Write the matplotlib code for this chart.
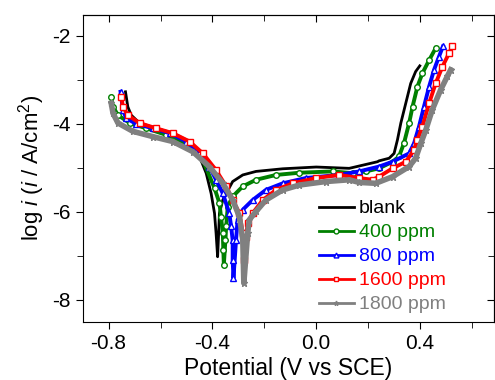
import matplotlib
matplotlib.use('Agg')
import matplotlib.pyplot as plt
import numpy as np

plt.rcParams['font.family'] = ['Liberation Sans', 'DejaVu Sans']
plt.rcParams['mathtext.fontset'] = 'custom'
plt.rcParams['mathtext.rm'] = 'Liberation Sans'
plt.rcParams['mathtext.it'] = 'Liberation Sans:italic'
plt.rcParams['axes.unicode_minus'] = False

# potential (V vs SCE) and log i
blank_E = [-0.735, -0.726, -0.713, -0.681, -0.617, -0.553, -0.488, -0.450, -0.424, -0.405,
           -0.392, -0.386, -0.380, -0.376, -0.373, -0.360, -0.347, -0.322, -0.283, -0.232,
           -0.129, 0.0, 0.127, 0.236, 0.242, 0.281, 0.300, 0.313, 0.326, 0.345, 0.364, 0.383, 0.399]
blank_L = [-3.27, -3.61, -3.80, -3.98, -4.10, -4.21, -4.40, -4.74, -5.12, -5.58,
           -6.03, -6.48, -7.02, -6.48, -6.03, -5.73, -5.58, -5.31, -5.16, -5.08,
           -5.02, -4.98, -5.01, -4.86, -4.84, -4.78, -4.67, -4.36, -3.98, -3.53, -3.08, -2.81, -2.68]

p400_E = [-0.790, -0.783, -0.764, -0.719, -0.655, -0.578, -0.501, -0.437, -0.392, -0.373,
          -0.367, -0.360, -0.358, -0.356, -0.350, -0.347, -0.341, -0.322, -0.283, -0.232,
          -0.155, -0.065, 0.063, 0.140, 0.191, 0.242, 0.294, 0.319, 0.338, 0.358, 0.371,
          0.390, 0.409, 0.435, 0.460]
p400_L = [-3.38, -3.61, -3.80, -3.98, -4.10, -4.25, -4.48, -4.82, -5.46, -5.80,
          -6.11, -6.48, -6.86, -7.20, -6.64, -6.33, -5.88, -5.65, -5.42, -5.27,
          -5.16, -5.11, -5.08, -5.12, -5.08, -5.01, -4.86, -4.74, -4.44, -3.98, -3.61,
          -3.15, -2.85, -2.55, -2.28]

p800_E = [-0.754, -0.745, -0.732, -0.694, -0.629, -0.565, -0.501, -0.450, -0.412, -0.386,
          -0.360, -0.335, -0.328, -0.322, -0.322, -0.319, -0.309, -0.303, -0.283, -0.245,
          -0.194, -0.129, -0.040, 0.088, 0.165, 0.242, 0.294, 0.358, 0.377, 0.396, 0.415,
          0.435, 0.454, 0.473, 0.488]
p800_L = [-3.27, -3.68, -3.87, -4.00, -4.10, -4.21, -4.40, -4.67, -4.97, -5.27,
          -5.58, -6.03, -6.33, -6.64, -7.09, -7.51, -6.64, -6.18, -5.95, -5.73,
          -5.50, -5.35, -5.23, -5.16, -5.08, -4.97, -4.86, -4.67, -4.44, -4.06, -3.61,
          -3.15, -2.77, -2.47, -2.24]

p1600_E = [-0.751, -0.745, -0.726, -0.681, -0.617, -0.553, -0.488, -0.437, -0.386, -0.347,
           -0.322, -0.296, -0.283, -0.279, -0.271, -0.264, -0.245, -0.206, -0.155, -0.091,
           0.0, 0.088, 0.165, 0.217, 0.242, 0.294, 0.345, 0.377, 0.390, 0.409, 0.435,
           0.460, 0.486, 0.512, 0.524]
p1600_L = [-3.38, -3.61, -3.80, -3.98, -4.10, -4.21, -4.40, -4.67, -5.05, -5.42,
           -5.73, -6.03, -6.48, -7.09, -6.56, -6.26, -6.03, -5.73, -5.50, -5.35,
           -5.23, -5.16, -5.23, -5.27, -5.20, -5.01, -4.86, -4.59, -4.36, -4.06, -3.53,
           -3.08, -2.70, -2.39, -2.24]

p1800_E = [-0.790, -0.783, -0.764, -0.706, -0.629, -0.553, -0.476, -0.412, -0.360, -0.322,
           -0.296, -0.283, -0.279, -0.264, -0.258, -0.232, -0.194, -0.129, -0.065, 0.037,
           0.127, 0.165, 0.229, 0.294, 0.358, 0.383, 0.403, 0.422, 0.447, 0.479, 0.505, 0.518]
p1800_L = [-3.53, -3.76, -3.98, -4.17, -4.29, -4.40, -4.63, -4.97, -5.35, -5.73,
           -6.11, -6.64, -7.62, -6.48, -6.18, -5.99, -5.73, -5.50, -5.39, -5.31,
           -5.27, -5.33, -5.35, -5.20, -4.97, -4.78, -4.44, -4.14, -3.68, -3.23, -2.92, -2.77]

labels = ['blank', '400 ppm', '800 ppm', '1600 ppm', '1800 ppm']
colors = ['black', 'green', 'blue', 'red', 'gray']

fig = plt.figure(figsize=(4.95, 3.8), dpi=100)
ax = fig.add_axes([0.167, 0.153, 0.831, 0.808])

ax.plot(blank_E, blank_L, '-', color='black', lw=2, label=labels[0])
ax.plot(p400_E, p400_L, '-', color='green', lw=2.8, marker='o', ms=4, mfc='white', mew=1, label=labels[1])
ax.plot(p800_E, p800_L, '-', color='blue', lw=2.8, marker='^', ms=4, mfc='white', mew=1, label=labels[2])
ax.plot(p1600_E, p1600_L, '-', color='red', lw=2.8, marker='s', ms=4, mfc='white', mew=1, label=labels[3])
ax.plot(p1800_E, p1800_L, '-', color='gray', lw=4, marker='*', ms=5, mew=1, label=labels[4])

ax.set_xlim(-0.9, 0.685)
ax.set_ylim(-8.5, -1.52)
ax.set_xticks([-0.8, -0.4, 0.0, 0.4])
ax.set_xticks([-0.6, -0.2, 0.2, 0.6], minor=True)
ax.set_yticks([-8, -6, -4, -2])
ax.set_yticks([-7, -5, -3], minor=True)
ax.tick_params(which='both', direction='out', labelsize=15)
ax.tick_params(which='major', length=5)
ax.tick_params(which='minor', length=4)

top = ax.secondary_xaxis('top')
top.set_xticks([-0.8, -0.4, 0.0, 0.4])
top.set_xticks([-0.6, -0.2, 0.2, 0.6], minor=True)
top.tick_params(which='both', direction='in', labeltop=False)
top.tick_params(which='major', length=5)
top.tick_params(which='minor', length=4)
right = ax.secondary_yaxis('right')
right.set_yticks([-8, -6, -4, -2])
right.set_yticks([-7, -5, -3], minor=True)
right.tick_params(which='both', direction='in', labelright=False)
right.tick_params(which='major', length=5)
right.tick_params(which='minor', length=4)

ax.set_xlabel('Potential (V vs SCE)', fontsize=16.5, labelpad=3)
ax.set_ylabel(r'log $\it{i}$ ($\it{i}$ / A/cm$^2$)', fontsize=16)

# legend handles: thinner lines with a small open marker
leg = ax.legend(loc='upper left', bbox_to_anchor=(0.555, 0.423), frameon=False, fontsize=14,
                handlelength=1.8, handletextpad=0.26, labelspacing=0.33, numpoints=1,
                borderaxespad=0)
for h in leg.legend_handles:
    h.set_linewidth(2)
    h.set_markersize(3.5)
for t, c in zip(leg.get_texts(), colors):
    t.set_color(c)

plt.savefig('out.png', dpi=100)
